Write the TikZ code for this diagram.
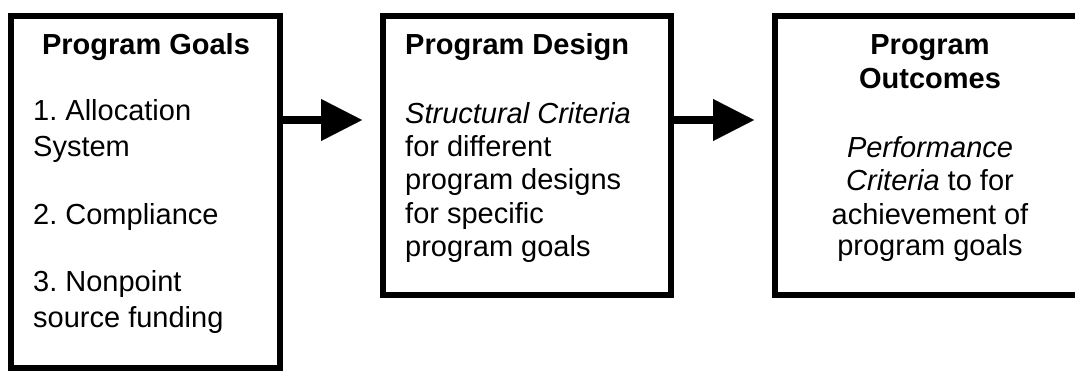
\documentclass[tikz,border=0pt]{standalone}
\usepackage{fontspec}
\setmainfont{Liberation Sans}
\usetikzlibrary{arrows.meta}
\frenchspacing
\begin{document}
\begin{tikzpicture}[x=1pt,y=-1pt,
  box/.style={draw=black,line width=6pt,rectangle,inner sep=0pt,fill=white},
  txt/.style={inner sep=0pt,font=\fontsize{29}{34}\selectfont\frenchspacing},
  hd/.style={txt,font=\fontsize{29}{34}\selectfont\bfseries},
  flow/.style={line width=8pt,-{Triangle[length=41pt,width=42pt,line width=0.1pt]}}]
\useasboundingbox (0,0) rectangle (1075,370);
\begin{scope}
\clip (0,0) rectangle (1075,370);
\node[box,minimum width=269pt,minimum height=352pt] (b1) at (145.5,192) {};
\node[box,minimum width=288pt,minimum height=279pt] (b2) at (526.5,155.5) {};
\node[box,minimum width=311pt,minimum height=279pt] (b3) at (930.5,155.5) {};
\end{scope}
% box 1
\node[hd,anchor=base] (g0) at (146,54) {Program Goals};
\node[txt,anchor=base west] (g1) at (33,120) {1.\ Allocation};
\node[txt,anchor=base west] (g2) at (33,156) {System};
\node[txt,anchor=base west] (g3) at (33,224) {2.\ Compliance};
\node[txt,anchor=base west] (g4) at (33,291) {3.\ Nonpoint};
\node[txt,anchor=base west] (g5) at (33,327) {source funding};
% box 2
\node[hd,anchor=base west] (d0) at (405,54) {Program Design};
\node[txt,anchor=base west] (d1) at (405,123) {\itshape Structural Criteria};
\node[txt,anchor=base west] (d2) at (405,156) {for different};
\node[txt,anchor=base west] (d3) at (405,189.5) {program designs};
\node[txt,anchor=base west] (d4) at (405,223) {for specific};
\node[txt,anchor=base west] (d5) at (405,256) {program goals};
% box 3
\node[hd,anchor=base] (o0) at (930,54) {Program};
\node[hd,anchor=base] (o1) at (930,88) {Outcomes};
\node[txt,anchor=base] (o2) at (930,157) {\itshape Performance};
\node[txt,anchor=base] (o3) at (930,190.5) {\textit{Criteria} to for};
\node[txt,anchor=base] (o4) at (930,224) {achievement of};
\node[txt,anchor=base] (o5) at (930,255) {program goals};
% arrows
\coordinate (t1) at (362,120);
\coordinate (t2) at (754,120);
\draw[flow] (b1.east |- t1) -- (t1);
\draw[flow] (b2.east |- t2) -- (t2);
\end{tikzpicture}
\end{document}
